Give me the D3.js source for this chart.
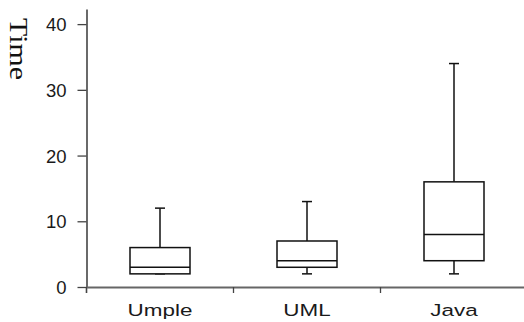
<!DOCTYPE html>
<html>
<head>
<meta charset="utf-8">
<script src="https://cdn.jsdelivr.net/npm/d3@7"></script>
<style>
  html, body { margin: 0; padding: 0; background: #fff; }
  svg { display: block; }
</style>
</head>
<body>
<div id="chart"></div>
<script>
// data
const groups = ["Umple", "UML", "Java"];
const whiskerLow = [2, 2, 2];
const q1 = [2, 3, 4];
const median = [3, 4, 8];
const q3 = [6, 7, 16];
const whiskerHigh = [12, 13, 34];
const yTicks = [0, 10, 20, 30, 40];

const width = 524, height = 322;
const svg = d3.select("#chart").append("svg")
  .attr("width", width)
  .attr("height", height);

const x = d3.scaleBand().domain(groups).range([86.5, 527.5]).padding(0);
const y = d3.scaleLinear().domain([0, 42.3]).range([287, 9]);

const boxWidth = 60;
const capWidth = 10;

// y axis
const yAxis = d3.axisLeft(y).tickValues(yTicks).tickSize(9).tickSizeOuter(0).tickPadding(11);
const gy = svg.append("g").attr("transform", "translate(86.5,0)").call(yAxis);
gy.select(".domain").attr("stroke", "#444").attr("stroke-width", 1.6);
gy.selectAll(".tick line").attr("stroke", "#444").attr("stroke-width", 1.3);
gy.selectAll(".tick text")
  .attr("font-family", "'Liberation Sans', Arial, sans-serif")
  .attr("font-size", 18.5)
  .attr("fill", "#1a1a1a")
  .attr("dy", "0.36em");
// small extension of the y axis below zero
gy.append("line")
  .attr("x1", 0).attr("x2", 0)
  .attr("y1", y(0)).attr("y2", y(0) + 6)
  .attr("stroke", "#444").attr("stroke-width", 1.6);

// x axis
const xAxis = d3.axisBottom(x).tickSize(0).tickSizeOuter(0).tickPadding(17);
const gx = svg.append("g").attr("transform", `translate(0,${y(0)})`).call(xAxis);
gx.select(".domain").attr("stroke", "#666").attr("stroke-width", 2);
gx.selectAll(".tick text")
  .attr("font-family", "'Liberation Sans', Arial, sans-serif")
  .attr("font-size", 17)
  .attr("fill", "#1a1a1a")
  .attr("transform", "scale(1.32,1)");
// separator ticks between groups
gx.selectAll(".sep")
  .data(groups.slice(0, -1))
  .enter()
  .append("line")
  .attr("class", "sep")
  .attr("x1", (d) => x(d) + x.bandwidth())
  .attr("x2", (d) => x(d) + x.bandwidth())
  .attr("y1", 0)
  .attr("y2", 6)
  .attr("stroke", "#444")
  .attr("stroke-width", 1.3);

// y label
svg.append("text")
  .attr("transform", "translate(10,49) rotate(90)")
  .attr("text-anchor", "middle")
  .attr("font-family", "'Liberation Serif', 'Times New Roman', serif")
  .attr("font-size", 25)
  .attr("fill", "#111")
  .attr("textLength", 62)
  .attr("lengthAdjust", "spacingAndGlyphs")
  .text("Time");

// boxes
const boxes = svg.append("g")
  .selectAll("g")
  .data(groups.map((g, i) => ({
    name: g, lo: whiskerLow[i], q1: q1[i], med: median[i], q3: q3[i], hi: whiskerHigh[i],
  })))
  .enter()
  .append("g")
  .attr("transform", (d) => `translate(${x(d.name) + x.bandwidth() / 2},0)`)
  .attr("stroke", "#111")
  .attr("stroke-width", 1.5)
  .attr("fill", "none");

boxes.append("line")
  .attr("x1", 0).attr("x2", 0)
  .attr("y1", (d) => y(d.q3)).attr("y2", (d) => y(d.hi));
boxes.append("line")
  .attr("x1", 0).attr("x2", 0)
  .attr("y1", (d) => y(d.q1)).attr("y2", (d) => y(d.lo));
boxes.append("line")
  .attr("x1", -capWidth / 2).attr("x2", capWidth / 2)
  .attr("y1", (d) => y(d.hi)).attr("y2", (d) => y(d.hi));
boxes.append("line")
  .attr("x1", -capWidth / 2).attr("x2", capWidth / 2)
  .attr("y1", (d) => y(d.lo)).attr("y2", (d) => y(d.lo));
boxes.append("rect")
  .attr("x", -boxWidth / 2)
  .attr("width", boxWidth)
  .attr("y", (d) => y(d.q3))
  .attr("height", (d) => y(d.q1) - y(d.q3))
  .attr("fill", "#fff");
boxes.append("line")
  .attr("x1", -boxWidth / 2).attr("x2", boxWidth / 2)
  .attr("y1", (d) => y(d.med)).attr("y2", (d) => y(d.med));
</script>
</body>
</html>
